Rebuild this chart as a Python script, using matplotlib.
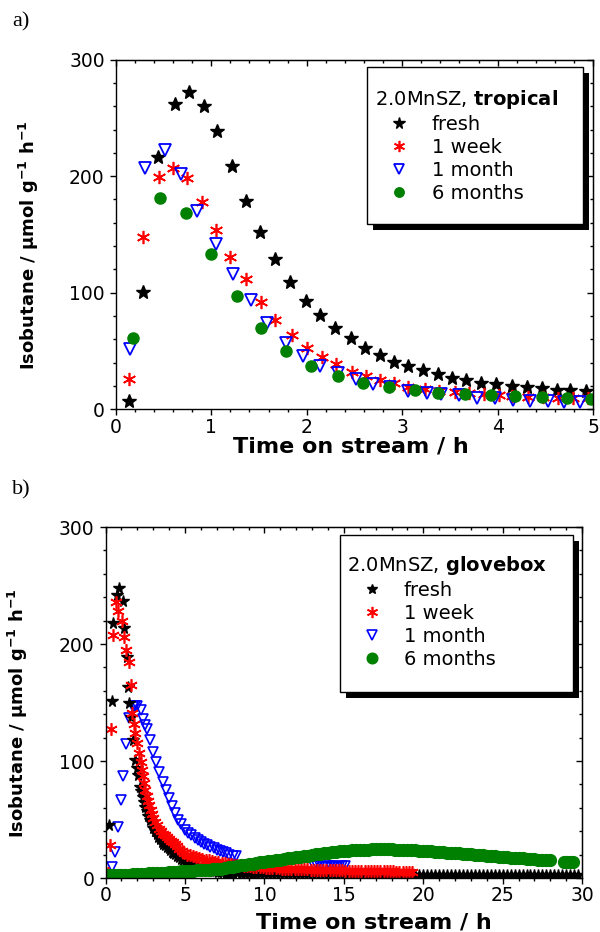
import numpy as np
import matplotlib
matplotlib.use("Agg")
import matplotlib.pyplot as plt
from matplotlib.patches import Rectangle
from matplotlib.ticker import MultipleLocator

plt.rcParams["font.family"] = ["DejaVu Sans"]
plt.rcParams["mathtext.fontset"] = "dejavusans"

# ---- a) tropical, 0-5 h ----
a_fresh_x = [0.14, 0.28, 0.44, 0.62, 0.77, 0.92, 1.06, 1.22, 1.36, 1.51, 1.67, 1.83,
             1.99, 2.14, 2.30, 2.46, 2.61, 2.77, 2.91, 3.06, 3.22, 3.37, 3.52, 3.67,
             3.83, 3.98, 4.15, 4.31, 4.46, 4.62, 4.76, 4.93]
a_fresh_y = [7, 101, 216, 262, 272, 260, 239, 209, 179, 152, 129, 109,
             93, 81, 70, 61, 53, 47, 41, 37, 34, 30, 27, 25,
             23, 22, 20, 19, 18, 17, 16.5, 16]

a_week_x = [0.14, 0.29, 0.45, 0.60, 0.75, 0.90, 1.05, 1.20, 1.36, 1.52, 1.67, 1.85,
            2.00, 2.16, 2.31, 2.47, 2.62, 2.77, 2.91, 3.06, 3.24, 3.39, 3.55, 3.70,
            3.86, 4.01, 4.15, 4.32, 4.48, 4.63, 4.79, 4.95]
a_week_y = [26, 148, 199, 207, 198, 178, 154, 131, 111.5, 92, 76.6, 63.7,
            53, 44.6, 39, 32.2, 28.6, 25, 22.3, 19.4, 17.2, 16, 15, 14,
            13, 12.3, 11.5, 11, 10.5, 10, 9.8, 9.5]

a_month_x = [0.15, 0.31, 0.52, 0.68, 0.85, 1.05, 1.23, 1.42, 1.58, 1.78, 1.96, 2.14,
             2.33, 2.52, 2.69, 2.87, 3.06, 3.26, 3.41, 3.59, 3.78, 3.97, 4.16, 4.34,
             4.53, 4.69, 4.86]
a_month_y = [52, 207, 222, 202, 170, 142, 116, 94, 74, 57, 46, 37,
             31, 26, 22, 19, 16, 14, 13, 12, 10, 9.4, 8, 7.4,
             7.2, 6.5, 6.5]

a_6m_x = [0.18, 0.46, 0.74, 1.00, 1.27, 1.52, 1.78, 2.04, 2.33, 2.59, 2.86, 3.13,
          3.38, 3.66, 3.93, 4.18, 4.46, 4.73, 4.98]
a_6m_y = [61, 181, 168, 133, 97, 69.5, 50.3, 37, 28.5, 23, 19.4, 16.5,
          14.2, 13.1, 12.3, 11.4, 10.3, 9.4, 8.8]

# ---- b) glovebox, 0-30 h ----
b_fresh_x = [0.10, 0.22, 0.39, 0.49, 0.70, 0.85, 1.08, 1.16, 1.33, 1.43, 1.50, 1.62,
             1.75, 1.86, 1.97, 2.07, 2.17, 2.26, 2.34, 2.41, 2.48, 2.58, 2.69, 2.80,
             2.90, 3.00, 3.11, 3.22, 3.32, 3.43, 3.53, 3.64, 3.75, 3.85, 3.96, 4.06,
             4.17, 4.27, 4.37, 4.50, 4.62, 4.75, 4.87, 5.00, 5.15, 5.30, 5.45, 5.60,
             5.75, 5.90, 6.05, 6.20, 6.35, 6.50, 6.65, 6.80, 6.95, 7.10, 7.25, 7.40,
             7.55, 7.70, 7.85, 8.00]
b_fresh_y = [3, 45, 151, 218, 242, 248, 237, 214, 189, 163, 150, 138,
             118, 101, 94, 88, 78, 74, 69.5, 65, 61, 57, 53, 50,
             47, 43, 40, 37.5, 35, 33, 31, 29.5, 28, 26.8, 25.5, 24,
             22.5, 21.5, 20.5, 19, 18, 16.5, 15, 13.5, 12.5, 11.5, 11, 10.2,
             9.6, 9, 8.5, 8, 7.5, 7, 6.6, 6.2, 5.8, 5.5, 5.2, 4.9,
             4.6, 4.4, 4.2, 4.0]
# flat tail of the fresh run, 8.25 h to 29.75 h every 0.25 h
b_fresh_tail_y = [3.9, 3.8, 3.8, 3.7, 3.7, 3.6, 3.6, 3.5,
                  3.5, 3.5, 3.4, 3.4, 3.4, 3.4, 3.3, 3.3,
                  3.3, 3.3, 3.3, 3.2, 3.2, 3.2, 3.2, 3.2,
                  3.2, 3.1, 3.1, 3.1, 3.1, 3.1, 3.1, 3.1,
                  3.1, 3.0, 3.0, 3.0, 3.0, 3.0, 3.0, 3.0,
                  3.0, 3.0, 3.0, 3.0, 2.9, 2.9, 2.9, 2.9,
                  2.9, 2.9, 2.9, 2.9, 2.9, 2.9, 2.9, 2.9,
                  2.8, 2.8, 2.8, 2.8, 2.8, 2.8, 2.8, 2.8,
                  2.8, 2.8, 2.8, 2.8, 2.8, 2.8, 2.8, 2.8,
                  2.8, 2.8, 2.8, 2.8, 2.8, 2.8, 2.8, 2.8,
                  2.8, 2.8, 2.8, 2.8, 2.8, 2.8, 2.8]

b_week_x = [0.12, 0.28, 0.35, 0.49, 0.66, 0.80, 1.02, 1.16, 1.29, 1.48, 1.58, 1.65,
            1.76, 1.86, 1.98, 2.10, 2.20, 2.28, 2.35, 2.42, 2.50, 2.59, 2.67, 2.75,
            2.83, 2.90, 3.00, 3.11, 3.24, 3.38, 3.50, 3.62, 3.74, 3.85, 3.97, 4.10,
            4.23, 4.37, 4.50, 4.65, 4.80, 4.95, 5.10]
b_week_y = [4, 28, 127, 208, 236, 228, 220, 206, 195, 185, 165, 141,
            132, 124, 115, 107, 99, 92, 87, 81, 75, 70, 66, 62,
            58.5, 55, 51.5, 48, 45, 42, 40, 38, 36.5, 35, 33.5, 32,
            30.5, 29, 27, 25, 23, 21.5, 20]
# tail of the 1 week run, 5.3 h to 19.3 h every 0.2 h
b_week_tail_y = [19.3, 18.6, 17.9, 17.2, 16.5, 15.8, 15.2, 14.6, 14.0, 13.5,
                 13.0, 12.6, 12.2, 11.8, 11.4, 11.1, 10.8, 10.5, 10.2, 9.9,
                 9.7, 9.5, 9.3, 9.1, 8.9, 8.7, 8.6, 8.4, 8.3, 8.1,
                 8.0, 7.9, 7.8, 7.7, 7.6, 7.5, 7.4, 7.3, 7.2, 7.1,
                 7.0, 7.0, 6.9, 6.8, 6.8, 6.7, 6.6, 6.6, 6.5, 6.4,
                 6.4, 6.3, 6.2, 6.2, 6.1, 6.0, 6.0, 5.9, 5.9, 5.8,
                 5.8, 5.7, 5.7, 5.6, 5.6, 5.5, 5.5, 5.5, 5.4, 5.4,
                 5.4]

b_month_x = [0.39, 0.60, 0.80, 0.96, 1.12, 1.29, 1.50, 1.71, 1.85, 2.00, 2.21, 2.38,
             2.50, 2.63, 2.80, 2.97, 3.18, 3.38, 3.60, 3.80, 3.99, 4.16, 4.37, 4.58,
             4.77, 5.00, 5.20, 5.40, 5.60, 5.80, 6.00, 6.20, 6.40, 6.60, 6.80, 7.00,
             7.20, 7.40, 7.60, 7.80, 8.00, 8.20,
             13.1, 13.3, 13.5, 13.7, 13.9, 14.1, 14.3, 14.5, 14.7, 14.9, 15.1]
b_month_y = [9.7, 22.5, 43.8, 66.7, 87, 114.5, 136.5, 146, 147, 147, 143.6, 135.6,
             131, 127, 118, 108, 99.4, 91, 82.3, 75, 68, 61.5, 55.8, 49.6,
             46, 41, 38.5, 36.5, 34.5, 32.8, 31, 29.5, 28, 26.8, 25.5, 24,
             23, 22, 21, 20, 19, 18.5,
             10.0, 10.5, 10.2, 9.6, 9.8, 10.4, 10.1, 9.6, 9.3, 9.9, 10.4]

# 6 months run, 0 h to 28 h every 0.25 h
b_6m_y = [2.6, 2.6, 2.7, 2.7, 2.8, 2.9, 3.0, 3.2,
          3.4, 3.5, 3.7, 3.9, 4.1, 4.3, 4.5, 4.7,
          5.0, 5.2, 5.5, 5.7, 6.0, 6.2, 6.4, 6.6,
          6.8, 7.0, 7.2, 7.4, 7.7, 8.1, 8.6, 9.1,
          9.7, 10.3, 10.8, 11.3, 11.9, 12.4, 12.9, 13.5,
          14.0, 14.4, 14.9, 15.3, 15.8, 16.2, 16.7, 17.2,
          17.7, 18.2, 18.7, 19.2, 19.7, 20.2, 20.7, 21.1,
          21.6, 22.0, 22.5, 22.9, 23.3, 23.5, 23.7, 23.9,
          24.1, 24.2, 24.3, 24.4, 24.5, 24.5, 24.5, 24.5,
          24.4, 24.3, 24.2, 24.1, 24.0, 23.8, 23.7, 23.5,
          23.3, 23.1, 22.8, 22.6, 22.3, 22.0, 21.8, 21.5,
          21.2, 21.0, 20.7, 20.5, 20.2, 19.9, 19.7, 19.4,
          19.1, 18.8, 18.6, 18.3, 18.0, 17.8, 17.5, 17.3,
          17.0, 16.8, 16.5, 16.3, 16.0, 15.8, 15.6, 15.3,
          15.1]
b_6m_end_x = [28.85, 29.05, 29.25, 29.45]
b_6m_end_y = [13.8, 13.6, 13.5, 13.4]

labels = ["fresh", "1 week", "1 month", "6 months"]
asterisk = (6, 2, 0)

fig = plt.figure(figsize=(6, 9.32), dpi=100)
ax1 = fig.add_axes([0.193, 0.5608, 0.7955, 0.3753])
ax2 = fig.add_axes([0.176, 0.0579, 0.7942, 0.3766])


def style_axes(ax, xmax, xmajor, xminor):
    ax.set_xlim(0, xmax)
    ax.set_ylim(0, 300)
    for sp in ax.spines.values():
        sp.set_linewidth(1.0)
    ax.xaxis.set_major_locator(MultipleLocator(xmajor))
    ax.xaxis.set_minor_locator(MultipleLocator(xminor))
    ax.yaxis.set_major_locator(MultipleLocator(100))
    ax.yaxis.set_minor_locator(MultipleLocator(20))
    ax.tick_params(which="major", direction="out", length=4, width=1, labelsize=13.5)
    ax.tick_params(which="minor", direction="out", length=2.2, width=1)
    ax.tick_params(axis="x", pad=2)
    ax.tick_params(axis="y", pad=4)
    # inward ticks on the top and right frame
    top = ax.secondary_xaxis("top")
    top.xaxis.set_major_locator(MultipleLocator(xmajor))
    top.xaxis.set_minor_locator(MultipleLocator(xminor))
    top.tick_params(which="major", direction="in", length=4, width=1, labeltop=False)
    top.tick_params(which="minor", direction="in", length=2.2, width=1)
    right = ax.secondary_yaxis("right")
    right.yaxis.set_major_locator(MultipleLocator(100))
    right.yaxis.set_minor_locator(MultipleLocator(20))
    right.tick_params(which="major", direction="in", length=4, width=1, labelright=False)
    right.tick_params(which="minor", direction="in", length=2.2, width=1)
    ax.set_xlabel("Time on stream / h", fontweight="bold", fontsize=16)
    ax.set_ylabel(r"Isobutane / µmol g$^{\mathbf{-1}}$ h$^{\mathbf{-1}}$",
                  fontweight="bold", fontsize=13)


def legend_box(ax, handles, x0, y0, x1, y1, anchor, title, scale):
    dx, dy = 0.0126, 0.0172
    ax.add_patch(Rectangle((x0 + dx, y0 - dy), x1 - x0, y1 - y0, transform=ax.transAxes,
                           facecolor="black", edgecolor="none", zorder=4, clip_on=False))
    ax.add_patch(Rectangle((x0, y0), x1 - x0, y1 - y0, transform=ax.transAxes,
                           facecolor="white", edgecolor="black", linewidth=1.0,
                           zorder=4.5, clip_on=False))
    leg = ax.legend(handles, labels, loc="upper left", bbox_to_anchor=anchor,
                    frameon=False, fontsize=14, title=title, title_fontsize=14,
                    alignment="left", borderpad=0, borderaxespad=0, handlelength=2.5,
                    handletextpad=0.4, labelspacing=0.2, markerscale=scale)
    leg.set_zorder(5)


# panel a
h1, = ax1.plot(a_fresh_x, a_fresh_y, ls="none", marker="*", ms=10, color="black")
h2, = ax1.plot(a_week_x, a_week_y, ls="none", marker=asterisk, ms=9.5, mew=1.2, color="red")
h3, = ax1.plot(a_month_x, a_month_y, ls="none", marker="v", ms=8.5, mew=1.3, mfc="none", mec="blue")
h4, = ax1.plot(a_6m_x, a_6m_y, ls="none", marker="o", ms=8, color="green")
style_axes(ax1, 5, 1, 0.2)
ax1.xaxis.set_label_coords(0.493, -0.079)
ax1.yaxis.set_label_coords(-0.1565, 0.47)
legend_box(ax1, [h1, h2, h3, h4], 0.5265, 0.5297, 0.979, 0.9786,
           (0.5433, 0.9186), r"2.0MnSZ, $\mathbf{tropical}$", 0.85)

# panel b
bx_fresh = b_fresh_x + list(np.linspace(8.25, 29.75, len(b_fresh_tail_y)))
by_fresh = b_fresh_y + b_fresh_tail_y
bx_week = b_week_x + list(np.linspace(5.3, 19.3, len(b_week_tail_y)))
by_week = b_week_y + b_week_tail_y
bx_6m = list(np.linspace(0, 28, len(b_6m_y))) + b_6m_end_x
by_6m = b_6m_y + b_6m_end_y

g3, = ax2.plot(b_month_x, b_month_y, ls="none", marker="v", ms=7.5, mew=1.2, mfc="none", mec="blue")
g1, = ax2.plot(bx_fresh, by_fresh, ls="none", marker="*", ms=8.5, color="black")
g2, = ax2.plot(bx_week, by_week, ls="none", marker=asterisk, ms=9, mew=1.2, color="red")
g4, = ax2.plot(bx_6m, by_6m, ls="none", marker="o", ms=8.5, color="green")
style_axes(ax2, 30, 5, 1)
ax2.xaxis.set_label_coords(0.563, -0.097)
ax2.yaxis.set_label_coords(-0.158, 0.47)
legend_box(ax2, [g1, g2, g3, g4], 0.492, 0.53, 0.981, 0.977,
           (0.5075, 0.923), r"2.0MnSZ, $\mathbf{glovebox}$", 0.9)

fig.text(0.02, 1 - 22 / 932, "a)", family="Liberation Serif", fontsize=16, va="center", ha="left")
fig.text(0.02, 1 - 490 / 932, "b)", family="Liberation Serif", fontsize=16, va="center", ha="left")

fig.savefig("out.png", dpi=100)
